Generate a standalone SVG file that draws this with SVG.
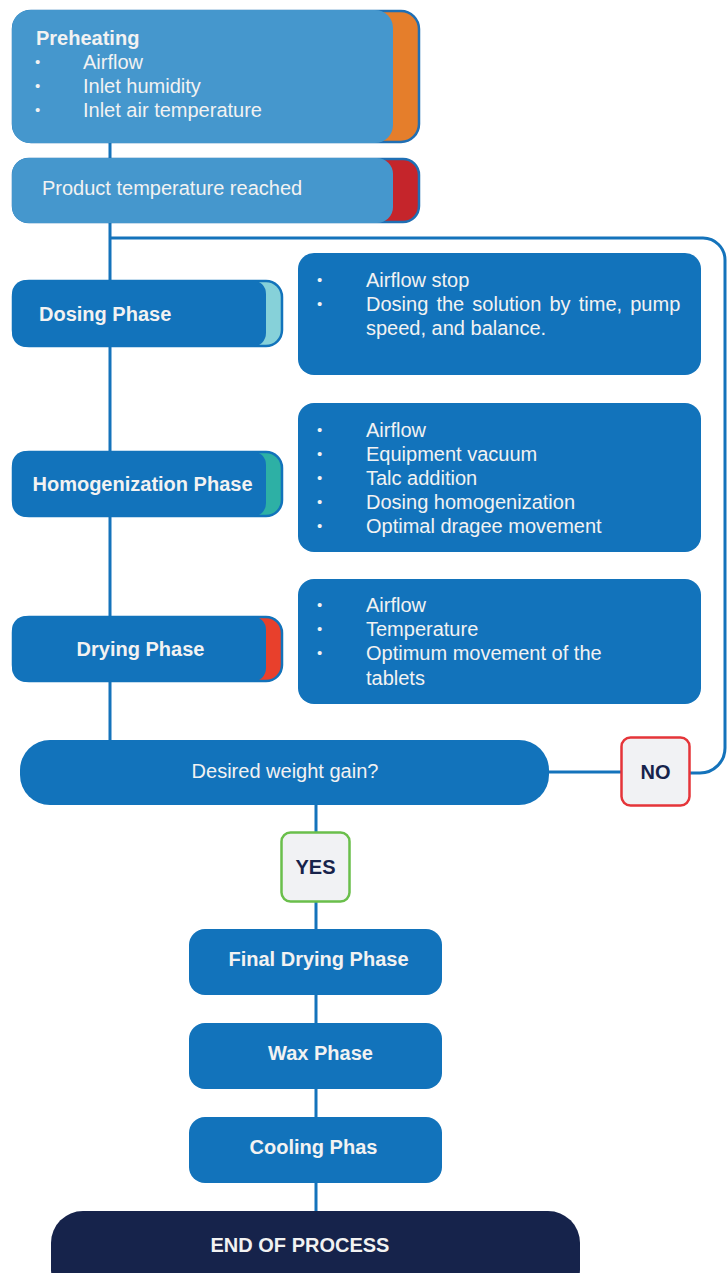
<svg xmlns="http://www.w3.org/2000/svg" width="727" height="1273" viewBox="0 0 727 1273">
<style>
.t{font-family:"Liberation Sans",Arial,sans-serif;font-size:20px;fill:#f2f2f2}
.b{font-weight:bold}
.c{text-anchor:middle}
.bul{font-family:"Liberation Sans",Arial,sans-serif;font-size:15px;fill:#f2f2f2}
.blue{fill:#1273bb}
.lb{fill:#4597cd}
.outer{stroke:#1f6fb4;stroke-width:2.5}
.ln{fill:none;stroke:#1473bb;stroke-width:3}
.tag{fill:#f1f2f4;stroke-width:2.5}
.tt{font-family:"Liberation Sans",Arial,sans-serif;font-size:20px;font-weight:bold;fill:#17234b;text-anchor:middle}
</style>
<rect width="727" height="1273" fill="#ffffff"/>
<g id="connectors">
<path class="ln" d="M110 143 V740"/>
<path class="ln" d="M110 238 H703 A22 22 0 0 1 725 260 V748 A25 25 0 0 1 700 773 H690"/>
<path class="ln" d="M549 772 H621"/>
<path class="ln" d="M316 805 V832 M316 902 V929 M316 995 V1023 M316 1089 V1117 M316 1183 V1211"/>
</g>
<g id="preheating">
<rect class="outer" x="13" y="11" width="406" height="131" rx="18" fill="#e57e2b"/>
<rect class="lb" x="12" y="10" width="381" height="133" rx="18"/>
<text class="t b" x="36" y="45">Preheating</text>
<text class="bul" x="35" y="67">•</text><text class="t" x="83" y="69">Airflow</text>
<text class="bul" x="35" y="91">•</text><text class="t" x="83" y="93">Inlet humidity</text>
<text class="bul" x="35" y="115">•</text><text class="t" x="83" y="117">Inlet air temperature</text>
</g>
<g id="product-temp">
<rect class="outer" x="13" y="159" width="406" height="63" rx="16" fill="#c5252b"/>
<rect class="lb" x="12" y="158" width="381" height="65" rx="16"/>
<text class="t" x="42" y="195">Product temperature reached</text>
</g>
<g id="dosing">
<rect class="outer" x="13" y="281" width="269" height="65" rx="16" fill="#86d1d9" style="stroke:#1273bb"/>
<rect class="blue" x="12" y="280" width="254" height="67" rx="14"/>
<text class="t b" x="39" y="321">Dosing Phase</text>
</g>
<g id="dosing-details">
<rect class="blue" x="298" y="253" width="403" height="122" rx="16"/>
<text class="bul" x="317" y="285">•</text><text class="t" x="366" y="287">Airflow stop</text>
<text class="bul" x="317" y="309">•</text><text class="t" x="366" y="311" word-spacing="2.6">Dosing the solution by time, pump</text>
<text class="t" x="366" y="335">speed, and balance.</text>
</g>
<g id="homogenization">
<rect class="outer" x="13" y="452" width="269" height="64" rx="16" fill="#2db0a5" style="stroke:#1273bb"/>
<rect class="blue" x="12" y="451" width="254" height="66" rx="14"/>
<text class="t b c" x="142.5" y="491">Homogenization Phase</text>
</g>
<g id="homogenization-details">
<rect class="blue" x="298" y="403" width="403" height="149" rx="16"/>
<text class="bul" x="317" y="435">•</text><text class="t" x="366" y="437">Airflow</text>
<text class="bul" x="317" y="459">•</text><text class="t" x="366" y="461">Equipment vacuum</text>
<text class="bul" x="317" y="483">•</text><text class="t" x="366" y="485">Talc addition</text>
<text class="bul" x="317" y="507">•</text><text class="t" x="366" y="509">Dosing homogenization</text>
<text class="bul" x="317" y="531">•</text><text class="t" x="366" y="533">Optimal dragee movement</text>
</g>
<g id="drying">
<rect class="outer" x="13" y="617" width="269" height="64" rx="16" fill="#e8402c" style="stroke:#1273bb"/>
<rect class="blue" x="12" y="616" width="254" height="66" rx="14"/>
<text class="t b c" x="140.5" y="656">Drying Phase</text>
</g>
<g id="drying-details">
<rect class="blue" x="298" y="579" width="403" height="125" rx="16"/>
<text class="bul" x="317" y="610">•</text><text class="t" x="366" y="612">Airflow</text>
<text class="bul" x="317" y="634">•</text><text class="t" x="366" y="636">Temperature</text>
<text class="bul" x="317" y="658">•</text><text class="t" x="366" y="660">Optimum movement of the</text>
<text class="t" x="366" y="685">tablets</text>
</g>
<g id="decision">
<rect class="blue" x="20" y="740" width="529" height="65" rx="30"/>
<text class="t c" x="285" y="778">Desired weight gain?</text>
</g>
<g id="no">
<rect class="tag" x="621.5" y="737.5" width="68" height="68" rx="9" stroke="#e53539"/>
<text class="tt" x="655.5" y="779">NO</text>
</g>
<g id="yes">
<rect class="tag" x="281.5" y="832.5" width="68" height="69" rx="9" stroke="#6abf4b"/>
<text class="tt" x="315.5" y="874">YES</text>
</g>
<g id="final-drying">
<rect class="blue" x="189" y="929" width="253" height="66" rx="16"/>
<text class="t b c" x="318.5" y="966">Final Drying Phase</text>
</g>
<g id="wax">
<rect class="blue" x="189" y="1023" width="253" height="66" rx="16"/>
<text class="t b c" x="320.5" y="1060">Wax Phase</text>
</g>
<g id="cooling">
<rect class="blue" x="189" y="1117" width="253" height="66" rx="16"/>
<text class="t b c" x="313.5" y="1154">Cooling Phas</text>
</g>
<g id="end">
<rect x="51" y="1211" width="529" height="90" rx="32" fill="#16234b"/>
<text class="t b c" x="300" y="1252">END OF PROCESS</text>
</g>
</svg>
